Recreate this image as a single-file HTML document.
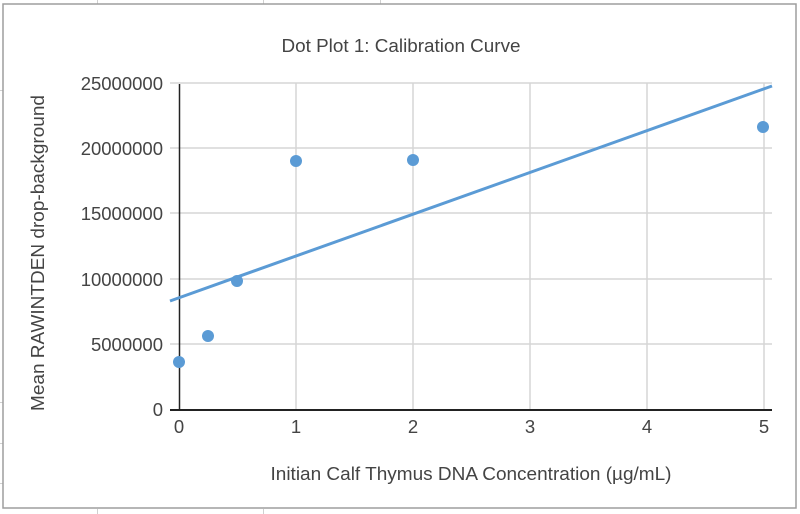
<!DOCTYPE html>
<html><head><meta charset="utf-8"><style>
html,body{margin:0;padding:0;background:#fff;}
svg{display:block;font-family:"Liberation Sans",Arial,sans-serif;}
</style></head><body>
<svg width="800" height="514" viewBox="0 0 800 514" xmlns="http://www.w3.org/2000/svg">
<g stroke="#d0d0d0" stroke-width="1">
<line x1="97.5" y1="0" x2="97.5" y2="4"/><line x1="263.5" y1="0" x2="263.5" y2="4"/><line x1="380.5" y1="0" x2="380.5" y2="4"/>
<line x1="97.5" y1="509" x2="97.5" y2="514"/><line x1="263.5" y1="509" x2="263.5" y2="514"/>
<line x1="0" y1="90.5" x2="3" y2="90.5"/><line x1="0" y1="402.5" x2="3" y2="402.5"/><line x1="0" y1="443.5" x2="3" y2="443.5"/><line x1="0" y1="483.5" x2="3" y2="483.5"/>
</g>
<rect x="3" y="4" width="793" height="504" fill="#fff" stroke="#9e9e9e" stroke-width="1.5"/>
<text x="401" y="52" text-anchor="middle" font-size="18.5" fill="#444" textLength="239" lengthAdjust="spacingAndGlyphs">Dot Plot 1: Calibration Curve</text>
<g stroke="#d6d6d6" stroke-width="1.5">
<line x1="170" y1="83" x2="772" y2="83"/><line x1="170" y1="148" x2="772" y2="148"/><line x1="170" y1="213" x2="772" y2="213"/><line x1="170" y1="279" x2="772" y2="279"/><line x1="170" y1="344" x2="772" y2="344"/>
<line x1="296" y1="83" x2="296" y2="409"/><line x1="413" y1="83" x2="413" y2="409"/><line x1="530" y1="83" x2="530" y2="409"/><line x1="647" y1="83" x2="647" y2="409"/><line x1="764" y1="83" x2="764" y2="409"/>
</g>
<line x1="179.5" y1="84" x2="179.5" y2="410" stroke="#222" stroke-width="1.5"/>
<line x1="170" y1="410" x2="772" y2="410" stroke="#222" stroke-width="2"/>
<g font-size="18.5" fill="#444" text-anchor="end">
<text x="163" y="90">25000000</text><text x="163" y="155">20000000</text><text x="163" y="220">15000000</text><text x="163" y="286">10000000</text><text x="163" y="351">5000000</text><text x="163" y="416">0</text>
</g>
<g font-size="18.5" fill="#444" text-anchor="middle">
<text x="179" y="433">0</text><text x="296" y="433">1</text><text x="413" y="433">2</text><text x="530" y="433">3</text><text x="647" y="433">4</text><text x="764" y="433">5</text>
<text x="471" y="480" textLength="401" lengthAdjust="spacingAndGlyphs">Initian Calf Thymus DNA Concentration (µg/mL)</text>
<text transform="translate(44,253) rotate(-90)" textLength="316" lengthAdjust="spacingAndGlyphs">Mean RAWINTDEN drop-background</text>
</g>
<line x1="170" y1="301" x2="772" y2="86" stroke="#5b9bd5" stroke-width="3"/>
<g fill="#5b9bd5">
<circle cx="179" cy="362" r="6"/><circle cx="208" cy="336" r="6"/><circle cx="237" cy="281" r="6"/><circle cx="296" cy="161" r="6"/><circle cx="413" cy="160" r="6"/><circle cx="763" cy="127" r="6"/>
</g>
</svg>
</body></html>
